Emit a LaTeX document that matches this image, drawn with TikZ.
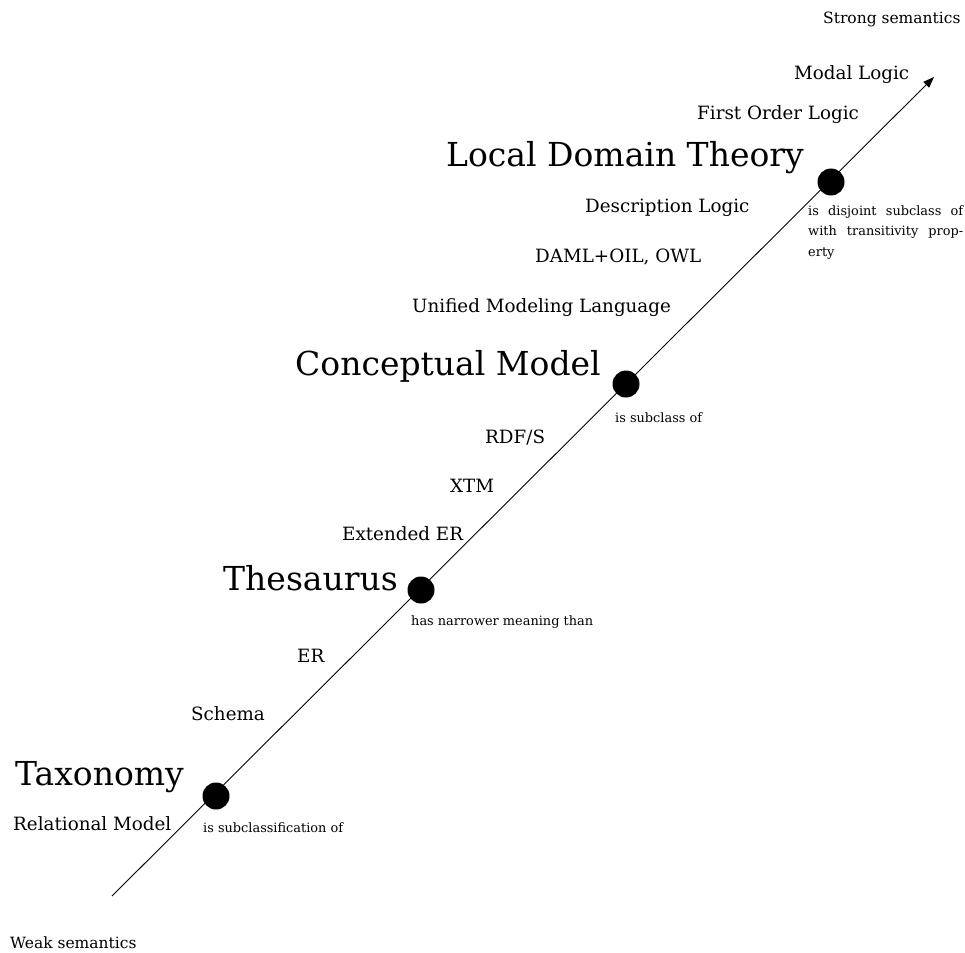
\documentclass[tikz,border=0pt]{standalone}
\usepackage{fontspec}
\setmainfont{DejaVu Serif}
\usetikzlibrary{arrows.meta}

\newcommand\bigsz{\fontsize{33}{39}\selectfont}
\newcommand\midsz{\fontsize{18.3}{22}\selectfont}
\newcommand\smallsz{\fontsize{12.9}{20.5}\selectfont}
\newcommand\polesz{\fontsize{15.5}{18}\selectfont}

\tikzset{
  lbl/.style={anchor=base west, inner sep=0pt, font=\midsz},
  level/.style={anchor=base west, inner sep=0pt, font=\bigsz},
  rel/.style={anchor=base west, inner sep=0pt, font=\smallsz},
  pole/.style={anchor=base west, inner sep=0pt, font=\polesz},
  dot/.style={circle, fill=black, inner sep=0pt, minimum size=27pt},
  axis/.style={line width=0.9pt, -{Stealth[length=11pt, width=8pt, inset=0pt]}}
}

\begin{document}
\begin{tikzpicture}[x=1pt, y=-1pt]
  \path[use as bounding box] (0,0) rectangle (965,952);

  % semantic axis
  \coordinate (weak) at (112,896);
  \coordinate (strong) at (934,77);
  \draw[axis] (weak) -- (strong);

  % levels on the axis
  \node[dot] (tax) at (216,796) {};
  \node[dot] (the) at (421,590) {};
  \node[dot] (con) at (626,384) {};
  \node[dot] (ldt) at (831,182) {};

  % end labels
  \node[pole] (strongl) at (823,24) {Strong semantics};
  \node[pole] (weakl) at (10,948) {Weak semantics};

  % level names
  \node[level] (ldtl) at (446,167) {Local Domain Theory};
  \node[level] (conl) at (295,375) {Conceptual Model};
  \node[level] (thel) at (223,590) {Thesaurus};
  \node[level] (taxl) at (15,785) {Taxonomy};

  % relations
  \node[rel, text width=155pt, align=justify] (ldtr) at (808,215)
    {is disjoint subclass of\linebreak with transitivity prop-\linebreak erty};
  \node[rel] (conr) at (615,422) {is subclass of};
  \node[rel] (ther) at (411,625) {has narrower meaning than};
  \node[rel] (taxr) at (203,832) {is subclassification of};

  % languages
  \node[lbl] (modal) at (794,80) {Modal Logic};
  \node[lbl] (fol) at (697,120) {First Order Logic};
  \node[lbl] (dl) at (585,212) {Description Logic};
  \node[lbl] (owl) at (535,262) {DAML+OIL, OWL};
  \node[lbl] (uml) at (412,312) {Unified Modeling Language};
  \node[lbl] (rdfs) at (485,443) {RDF/S};
  \node[lbl] (xtm) at (450,492) {XTM};
  \node[lbl] (eer) at (342,540) {Extended ER};
  \node[lbl] (er) at (297,662) {ER};
  \node[lbl] (schema) at (191,720) {Schema};
  \node[lbl] (rel) at (13,830) {Relational Model};
\end{tikzpicture}
\end{document}
